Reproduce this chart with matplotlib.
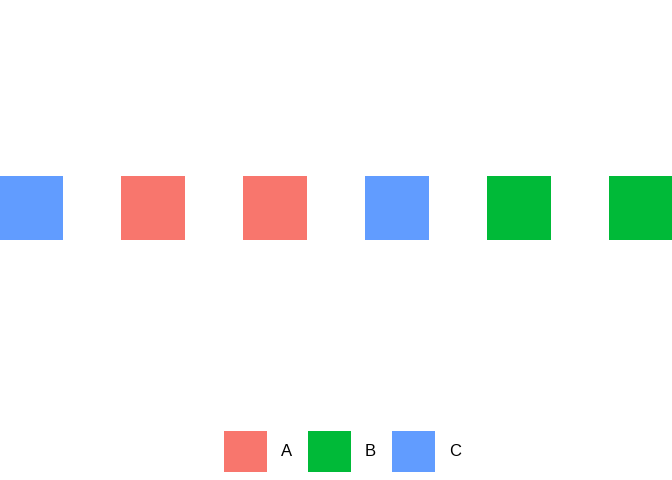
import matplotlib
matplotlib.use("Agg")
import matplotlib.pyplot as plt
from matplotlib.patches import Patch

# données
positions = [1, 2, 3, 4, 5, 6]
groupes = ["C", "A", "A", "C", "B", "B"]
categories = ["A", "B", "C"]
couleurs = {"A": "#F8766D", "B": "#00BA38", "C": "#619CFF"}

plt.rcParams["font.family"] = ["Liberation Sans", "DejaVu Sans"]

fig = plt.figure(figsize=(6.72, 4.8), dpi=100)
ax = fig.add_axes([0, 64 / 480, 1, 416 / 480])

largeur = 64 / 122
hauteur = 64 / 416
ax.bar(positions, hauteur, bottom=1 - hauteur / 2, width=largeur,
       color=[couleurs[g] for g in groupes], linewidth=0)

ax.set_xlim(1 - 31 / 122, 1 - 31 / 122 + 672 / 122)
ax.set_ylim(0.5, 1.5)
ax.axis("off")

handles = [Patch(facecolor=couleurs[c], edgecolor="none", label=c) for c in categories]
fig.legend(handles=handles, loc="center", bbox_to_anchor=(0.5095, 1 - 451.5 / 480),
           ncol=3, frameon=False, fontsize=12, handlelength=2.58, handleheight=3.47,
           handletextpad=0.84, columnspacing=0.97, borderpad=0, borderaxespad=0)

plt.savefig("out.png", dpi=100)
